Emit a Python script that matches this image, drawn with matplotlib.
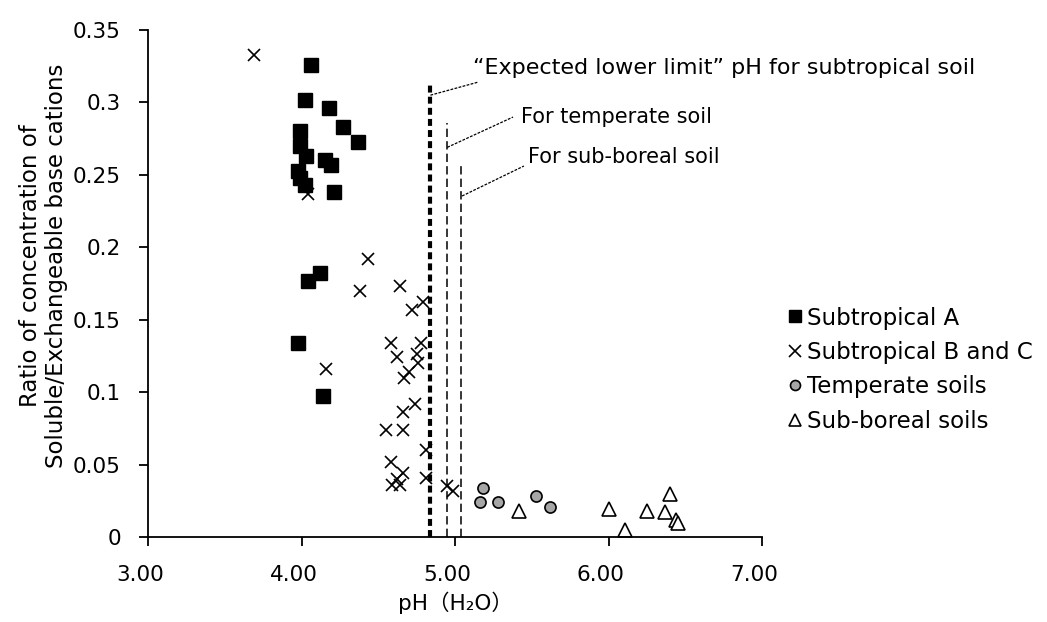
import matplotlib
matplotlib.use("Agg")
import matplotlib.pyplot as plt
from matplotlib.ticker import FuncFormatter, FixedLocator
from matplotlib.transforms import ScaledTranslation

plt.rcParams['font.family'] = ['DejaVu Sans', 'Noto Sans CJK JP']
plt.rcParams['lines.scale_dashes'] = False

# ---- data ----
subA_ph = [4.06, 4.02, 4.18, 4.27, 3.99, 4.37, 3.99, 4.03, 4.15, 4.19, 3.98, 3.99, 4.02,
           4.21, 4.04, 4.12, 3.98, 4.14]
subA_ratio = [0.326, 0.302, 0.296, 0.283, 0.280, 0.273, 0.270, 0.263, 0.260, 0.257, 0.253,
              0.248, 0.243, 0.238, 0.177, 0.182, 0.134, 0.097]

subBC_ph = [3.69, 4.04, 4.43, 4.38, 4.64, 4.72, 4.79, 4.58, 4.78, 4.62, 4.75, 4.76, 4.16,
            4.70, 4.67, 4.74, 4.66, 4.55, 4.66, 4.81, 4.58, 4.66, 4.59, 4.64, 4.62, 4.81,
            4.95, 4.99]
subBC_ratio = [0.333, 0.237, 0.192, 0.170, 0.173, 0.157, 0.162, 0.134, 0.134, 0.124, 0.126,
               0.120, 0.116, 0.114, 0.110, 0.092, 0.086, 0.074, 0.074, 0.060, 0.052, 0.044,
               0.036, 0.036, 0.040, 0.041, 0.035, 0.032]

temp_ph = [5.18, 5.16, 5.28, 5.53, 5.62]
temp_ratio = [0.034, 0.024, 0.024, 0.028, 0.021]

boreal_ph = [5.42, 6.00, 6.11, 6.25, 6.40, 6.37, 6.44, 6.45]
boreal_ratio = [0.018, 0.019, 0.005, 0.018, 0.030, 0.017, 0.012, 0.010]

series_labels = ['Subtropical A', 'Subtropical B and C', 'Temperate soils', 'Sub-boreal soils']

# expected lower-limit pH lines and their heights
limit_ph = [4.84, 4.95, 5.04]
limit_top = [0.312, 0.286, 0.258]
limit_labels = ['\u201cExpected lower limit\u201d pH for subtropical soil',
                'For temperate soil', 'For sub-boreal soil']

x_ticks = [3.0, 4.0, 5.0, 6.0, 7.0]
y_ticks = [0, 0.05, 0.1, 0.15, 0.2, 0.25, 0.3, 0.35]

# ---- figure ----
W, H = 1047, 622
fig = plt.figure(figsize=(W / 100, H / 100), dpi=100)
ax = fig.add_axes([148 / W, 1 - 537 / H, (762 - 148) / W, (537 - 30) / H])

hA, = ax.plot(subA_ph, subA_ratio, ls='none', marker='s', ms=10, mfc='black', mec='black',
              label=series_labels[0])
hB, = ax.plot(subBC_ph, subBC_ratio, ls='none', marker='x', ms=9, mew=1.2, color='black',
              label=series_labels[1])
hC, = ax.plot(temp_ph, temp_ratio, ls='none', marker='o', ms=8, mfc='#a6a6a6', mec='black',
              mew=1.2, label=series_labels[2])
hD, = ax.plot(boreal_ph, boreal_ratio, ls='none', marker='^', ms=9.5, mfc='white', mec='black',
              mew=1.2, label=series_labels[3])

# vertical limit lines
line_styles = [dict(lw=3.0, dashes=(5, 3)), dict(lw=1.1, dashes=(6, 3)), dict(lw=1.1, dashes=(6, 3))]
for xv, top, st in zip(limit_ph, limit_top, line_styles):
    ax.plot([xv, xv], [0, top], color='black', solid_capstyle='butt', dash_capstyle='butt', **st)

# leader lines and labels
leader_start = [(4.84, 0.305), (4.95, 0.269), (5.046, 0.2354)]
leader_end = [(5.150, 0.314), (5.378, 0.2899), (5.449, 0.2561)]
text_pos = [(5.117, 0.3235), (5.430, 0.2899), (5.476, 0.2623)]
text_size = [16, 15, 15]
for (x0, y0), (x1, y1), (tx, ty), lab, fs in zip(leader_start, leader_end, text_pos,
                                                  limit_labels, text_size):
    ax.plot([x0, x1], [y0, y1], color='black', lw=0.9, dashes=(2, 1))
    ax.text(tx, ty, lab, fontsize=fs, ha='left', va='center')

ax.set_xlim(3, 7)
ax.set_ylim(0, 0.35)
ax.xaxis.set_major_locator(FixedLocator(x_ticks))
ax.yaxis.set_major_locator(FixedLocator(y_ticks))
ax.xaxis.set_major_formatter(FuncFormatter(lambda v, p: f'{v:.2f}'))
ax.yaxis.set_major_formatter(FuncFormatter(lambda v, p: f'{v:g}'))

for s in ['top', 'right']:
    ax.spines[s].set_visible(False)
for s in ['left', 'bottom']:
    ax.spines[s].set_linewidth(1.3)
ax.tick_params(axis='both', direction='out', length=6.5, width=1.3, labelsize=15.5)
ax.tick_params(axis='x', pad=13.5)
ax.tick_params(axis='y', pad=13)
for lab in ax.get_xticklabels():
    lab.set_transform(lab.get_transform() + ScaledTranslation(-8 / 100, 0, fig.dpi_scale_trans))

ax.set_xlabel('pH\uff08H\u2082O\uff09', fontsize=15.5, labelpad=5)

fig.text(43.5 / W, 1 - 266 / H,
         'Ratio of concentration of\nSoluble/Exchangeable base cations',
         rotation=90, ha='center', va='center', multialignment='center',
         fontsize=16.5, linespacing=1.15)

fig.legend(handles=[hA, hB, hC, hD], loc='upper left',
           bbox_to_anchor=(788.5 / W, 1 - 306.5 / H), bbox_transform=fig.transFigure,
           frameon=False, fontsize=16.5, handlelength=0.6, handletextpad=0.2,
           labelspacing=0.5, borderpad=0, borderaxespad=0, markerscale=0.9)

fig.savefig('out.png', dpi=100)
